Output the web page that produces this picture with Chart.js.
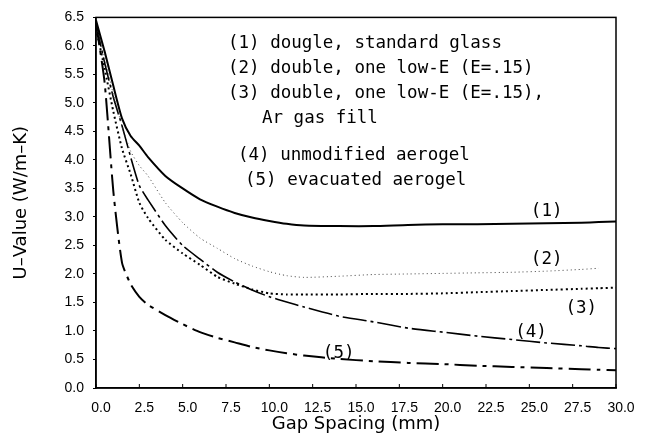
<!DOCTYPE html>
<html>
<head>
<meta charset="utf-8">
<script src="https://cdn.jsdelivr.net/npm/chart.js@4/dist/chart.umd.min.js"></script>
<style>
html,body{margin:0;padding:0;background:#fff;}
#wrap{width:646px;height:444px;position:relative;}
</style>
</head>
<body>
<div id="wrap"><canvas id="c" width="646" height="444"></canvas></div>
<script>
const gapMm = [0,0.5,1,1.5,2,2.5,3,4,5,6,7,8,9,10,11,12,14,16,18,20,22,24,26,28,29,30];
const u1 = [6.45,5.9,5.3,4.73,4.42,4.25,4.05,3.72,3.5,3.31,3.18,3.07,2.99,2.93,2.88,2.85,2.84,2.84,2.86,2.87,2.87,2.88,2.89,2.9,2.91,2.92];
const u2 = [6.4,5.8,5.15,4.6,4.15,3.9,3.72,3.25,2.9,2.63,2.45,2.27,2.14,2.04,1.97,1.94,1.96,1.99,2.0,2.01,2.02,2.03,2.05,2.08,2.1,null];
const u3 = [6.3,5.6,4.85,4.2,3.75,3.25,2.98,2.6,2.36,2.16,1.95,1.83,1.73,1.66,1.64,1.64,1.64,1.65,1.65,1.66,1.68,1.7,1.72,1.74,1.75,1.76];
const u4 = [6.4,5.7,5.1,4.6,4.05,3.55,3.3,2.85,2.5,2.26,2.03,1.86,1.72,1.6,1.51,1.42,1.26,1.16,1.05,0.98,0.91,0.85,0.79,0.74,0.71,0.69];
const u5 = [6.4,5.35,3.45,2.2,1.82,1.6,1.46,1.28,1.12,0.98,0.88,0.8,0.72,0.66,0.61,0.57,0.51,0.47,0.44,0.42,0.39,0.37,0.35,0.33,0.32,0.31];
const xTicks = [0,2.5,5,7.5,10,12.5,15,17.5,20,22.5,25,27.5,30];
const yTicks = [0,0.5,1,1.5,2,2.5,3,3.5,4,4.5,5,5.5,6,6.5];
const legendLines = [
  ["(1) dougle, standard glass", 228, 43],
  ["(2) double, one low-E (E=.15)", 228, 68],
  ["(3) double, one low-E (E=.15),", 228, 93],
  ["Ar gas fill", 262, 118],
  ["(4) unmodified aerogel", 238, 155],
  ["(5) evacuated aerogel", 245, 180]
];
const curveLabels = [["(1)",26,3.1],["(2)",26,2.25],["(3)",28.0,1.4],["(4)",25.1,0.97],["(5)",14.0,0.6]];

function pts(ys){ return gapMm.map((x,i)=>({x:x,y:ys[i]})); }

const monoFont = '17.5px "DejaVu Sans Mono"';
const sansFam = '"Liberation Sans", Arial, sans-serif';
const titleFam = '"DejaVu Sans", sans-serif';

const overlay = {
  id:'overlay',
  afterDraw(chart){
    const ctx = chart.ctx, a = chart.chartArea;
    const xs = chart.scales.x, ys = chart.scales.y;
    ctx.save();
    ctx.strokeStyle = '#000'; ctx.lineWidth = 1.5;
    ctx.strokeRect(a.left, a.top, a.right-a.left, a.bottom-a.top);
    ctx.lineWidth = 1;
    xTicks.forEach(v=>{
      const px = xs.getPixelForValue(v);
      ctx.beginPath(); ctx.moveTo(px, a.bottom); ctx.lineTo(px, a.bottom-4); ctx.stroke();
    });
    ctx.fillStyle = '#000';
    ctx.font = monoFont; ctx.textBaseline='middle'; ctx.textAlign='left';
    legendLines.forEach(l=>ctx.fillText(l[0], l[1], l[2]));
    ctx.textAlign='center';
    curveLabels.forEach(l=>ctx.fillText(l[0], xs.getPixelForValue(l[1]), ys.getPixelForValue(l[2])));
    ctx.restore();
  }
};

new Chart(document.getElementById('c'), {
  type:'line',
  data:{
    datasets:[
      {label:'(1)', data:pts(u1), borderColor:'#000', borderWidth:2, pointRadius:0, tension:0.2},
      {label:'(2)', data:pts(u2), borderColor:'#444', borderWidth:1, borderDash:[1,3], pointRadius:0, tension:0.2},
      {label:'(3)', data:pts(u3), borderColor:'#000', borderWidth:2, borderDash:[2,3], pointRadius:0, tension:0.2},
      {label:'(4)', data:pts(u4), borderColor:'#000', borderWidth:1.6, borderDash:[24,4,3,4], pointRadius:0, tension:0.2},
      {label:'(5)', data:pts(u5), borderColor:'#000', borderWidth:2, borderDash:[22,6,4,6], pointRadius:0, tension:0.2}
    ]
  },
  options:{
    responsive:false, animation:false,
    layout:{padding:{left:0,right:30,top:14,bottom:0}},
    plugins:{legend:{display:false}, tooltip:{enabled:false}},
    scales:{
      x:{type:'linear', min:0, max:30,
        afterBuildTicks(s){ s.ticks = xTicks.map(v=>({value:v})); },
        afterFit(s){ s.height = 56; },
        grid:{display:true, drawOnChartArea:false, drawTicks:false},
        border:{display:true,color:'#000',width:1.5},
        ticks:{padding:12, labelOffset:5, color:'#000', font:{family:sansFam,size:14}, callback:v=>v.toFixed(1), maxRotation:0, autoSkip:false},
        title:{display:true, text:'Gap Spacing (mm)', color:'#000', font:{family:titleFam,size:18}, padding:{top:0,bottom:9}}
      },
      y:{type:'linear', min:0, max:6.5,
        afterBuildTicks(s){ s.ticks = yTicks.map(v=>({value:v})); },
        afterFit(s){ s.width = 96; },
        grid:{display:true, drawOnChartArea:false, drawTicks:true, tickLength:3, color:'#000'},
        border:{display:true,color:'#000',width:1.5},
        ticks:{padding:9, color:'#000', font:{family:sansFam,size:14}, callback:v=>v.toFixed(1), autoSkip:false},
        title:{display:true, text:'U\u2013Value (W/m\u2013K)', color:'#000', font:{family:titleFam,size:18}, padding:{top:11,bottom:0}}
      }
    }
  },
  plugins:[overlay]
});
</script>
</body>
</html>
